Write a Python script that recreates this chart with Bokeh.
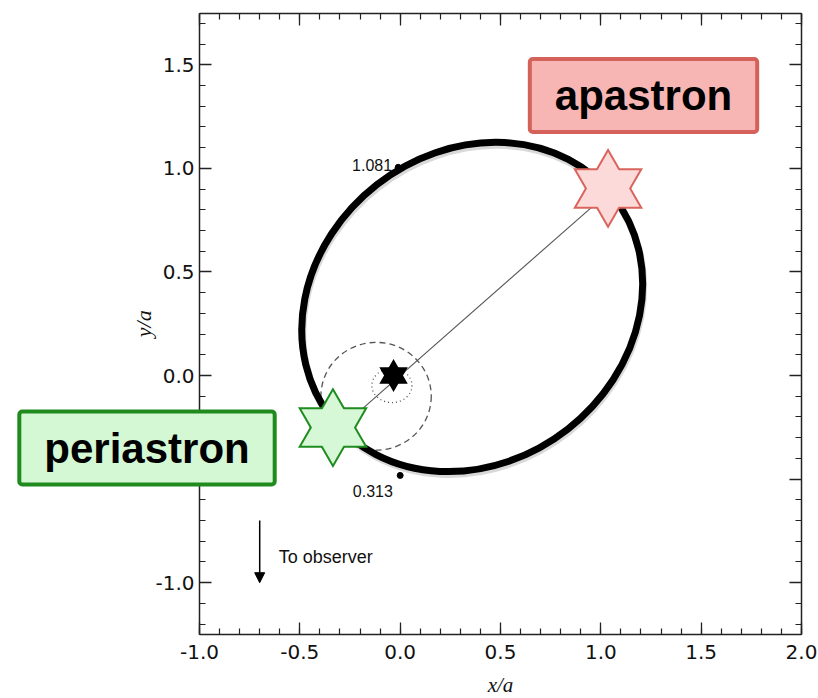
from bokeh.plotting import figure
from bokeh.models import (Range1d, LinearAxis, Label, Arrow, NormalHead,
                          SingleIntervalTicker, PrintfTickFormatter)
from bokeh.embed import file_html
from bokeh.resources import INLINE
import math

# ---------------- data ----------------
x_limits = [-1.0, 2.0]
y_limits = [-1.25, 1.75]
tick_step = [0.5]

# projected orbit (thick ellipse)
orbit_x = [0.359]
orbit_y = [0.331]
orbit_w = [1.786]
orbit_h = [1.497]
orbit_angle = [38.0]          # degrees

# dashed and dotted ellipses around the primary
dashed_x = [-0.12]
dashed_y = [-0.10]
dashed_w = [0.55]
dashed_h = [0.52]
dotted_x = [-0.041]
dotted_y = [-0.048]
dotted_w = [0.20]
dotted_h = [0.165]

# line of apsides (periastron -> apastron)
apsides_x = [-0.335, 1.036]
apsides_y = [-0.285, 0.882]

# primary star, periastron star, apastron star
primary_x = [-0.033]
primary_y = [0.0]
peri_x = [-0.335]
peri_y = [-0.251]
apo_x = [1.036]
apo_y = [0.903]

# marked points with separations
sep_labels = ["1.081", "0.313"]
sep_x = [-0.01, 0.0]
sep_y = [1.005, -0.482]

# ---------------- layout geometry (pixels) ----------------
W, H = 818, 698
FR_L, FR_R, FR_T, FR_B = 199.0, 801.0, 12.5, 634.0
sx = (FR_R - FR_L) / (x_limits[1] - x_limits[0])
sy = (FR_B - FR_T) / (y_limits[1] - y_limits[0])
x_canvas = (x_limits[0] - FR_L / sx, x_limits[1] + (W - FR_R) / sx)
y_canvas = (y_limits[0] - (H - FR_B) / sy, y_limits[1] + FR_T / sy)


def px_x(px):
    return x_limits[0] + (px - FR_L) / sx


def px_y(py):
    return y_limits[1] - (py - FR_T) / sy


p = figure(width=W, height=H, output_backend="svg", toolbar_location=None,
           x_range=Range1d(*x_canvas), y_range=Range1d(*y_canvas),
           min_border=0, background_fill_color="white",
           border_fill_color="white", x_axis_type=None, y_axis_type=None)
p.xgrid.visible = False
p.ygrid.visible = False
p.outline_line_color = None

FONT = "Liberation Sans"
TICK_FONT = "DejaVu Sans"
AXC = "#222222"


def make_axis(loc, bounds, labels, standoff=5):
    ax = LinearAxis(fixed_location=loc, bounds=bounds)
    ax.ticker = SingleIntervalTicker(interval=tick_step[0], num_minor_ticks=5)
    ax.axis_line_color = AXC
    ax.axis_line_width = 1.5
    ax.major_tick_line_color = AXC
    ax.minor_tick_line_color = AXC
    ax.major_tick_line_width = 1.3
    ax.minor_tick_line_width = 1.2
    ax.major_tick_in = 12
    ax.major_tick_out = 0
    ax.minor_tick_in = 6
    ax.minor_tick_out = 0
    ax.major_label_text_font = TICK_FONT
    ax.major_label_text_color = "#111111"
    ax.major_label_text_font_size = "20px"
    if labels:
        ax.formatter = PrintfTickFormatter(format="%.1f")
        ax.major_label_standoff = standoff
    else:
        # mirrored axis: ticks only, no labels
        ax.formatter = PrintfTickFormatter(format="")
        ax.major_label_standoff = 0
    return ax


p.add_layout(make_axis(y_limits[0], tuple(x_limits), True, 10), "below")
p.add_layout(make_axis(y_limits[1], tuple(x_limits), False), "above")
p.add_layout(make_axis(x_limits[0], tuple(y_limits), True, 5), "left")
p.add_layout(make_axis(x_limits[1], tuple(y_limits), False), "right")

# axis titles
p.add_layout(Label(x=0.5, y=px_y(684), text="x/a",
                   text_font="Liberation Serif", text_font_style="italic",
                   text_font_size="21px", text_align="center", text_baseline="middle",
                   text_color="#111111"))
p.add_layout(Label(x=px_x(143), y=0.25, text="y/a", angle=math.pi / 2,
                   text_font="Liberation Serif", text_font_style="italic",
                   text_font_size="22px", text_align="center", text_baseline="middle",
                   text_color="#111111"))

# dashed / dotted ellipses
p.ellipse(x=dashed_x, y=dashed_y, width=dashed_w, height=dashed_h,
          fill_alpha=0, line_color="#555555", line_width=1.3, line_dash="6 4")
p.ellipse(x=dotted_x, y=dotted_y, width=dotted_w, height=dotted_h,
          fill_alpha=0, line_color="#555555", line_width=1.3, line_dash="1 3")

# line of apsides
p.line(apsides_x, apsides_y, line_color="#555555", line_width=1.1)

# orbit shadow + orbit
p.ellipse(x=[orbit_x[0] + 0.005], y=[orbit_y[0] - 0.014], width=orbit_w, height=orbit_h,
          angle=[math.radians(a) for a in orbit_angle], fill_alpha=0,
          line_color="#aaaaaa", line_alpha=0.45, line_width=7)
p.ellipse(x=orbit_x, y=orbit_y, width=orbit_w, height=orbit_h,
          angle=[math.radians(a) for a in orbit_angle], fill_alpha=0,
          line_color="black", line_width=7)

# marked points
p.scatter(sep_x, sep_y, size=6, color="black")
p.text(x=[sep_x[0] - 0.03], y=[sep_y[0] + 0.01], text=[sep_labels[0]],
       text_font={"value": FONT}, text_font_size="16px", text_align="right",
       text_baseline="middle", text_color="#111111")
p.text(x=[sep_x[1] - 0.136], y=[sep_y[1] - 0.074], text=[sep_labels[1]],
       text_font={"value": FONT}, text_font_size="16px", text_align="center",
       text_baseline="middle", text_color="#111111")


def hexagram(x, y, size, fill, edge, lw):
    # outlines first, then fills on top -> union outline only
    for m in ("triangle", "inverted_triangle"):
        p.scatter(x, y, marker=m, size=size, fill_alpha=0, line_color=edge,
                  line_width=lw, line_join="miter")
    for m in ("triangle", "inverted_triangle"):
        p.scatter(x, y, marker=m, size=size, fill_color=fill, line_alpha=0)


hexagram(primary_x, primary_y, 25, "black", "black", 2)
hexagram(peri_x, peri_y, 63, "#d6f8d6", "#1f8c1f", 4)
hexagram(apo_x, apo_y, 63, "#fddada", "#d9645c", 4)

# observer arrow
obs_arrow_x = [-0.7, -0.7]
obs_arrow_y = [-0.70, -1.0]
p.add_layout(Arrow(end=NormalHead(size=10, fill_color="black", line_color="black"),
                   x_start=obs_arrow_x[0], y_start=obs_arrow_y[0],
                   x_end=obs_arrow_x[1], y_end=obs_arrow_y[1],
                   line_color="black", line_width=1.5))
p.add_layout(Label(x=-0.605, y=-0.874, text="To observer", text_font=FONT,
                   text_font_size="18px", text_align="left", text_baseline="middle",
                   text_color="#111111"))

# annotation boxes
p.add_layout(Label(x=px_x(643), y=px_y(95), text="apastron",
                   text_font=FONT, text_font_style="bold", text_font_size="42px",
                   text_align="center", text_baseline="middle", text_color="black",
                   background_fill_color="#f7b6b3", border_line_color="#d4615a",
                   border_line_width=4, padding=(25, 13), border_radius=3))
p.add_layout(Label(x=px_x(146.5), y=px_y(447.5), text="periastron",
                   text_font=FONT, text_font_style="bold", text_font_size="42px",
                   text_align="center", text_baseline="middle", text_color="black",
                   background_fill_color="#d4f7d4", border_line_color="#1f8b1f",
                   border_line_width=4, padding=(25, 13), border_radius=3))

open("out.html", "w").write(file_html(p, INLINE))
